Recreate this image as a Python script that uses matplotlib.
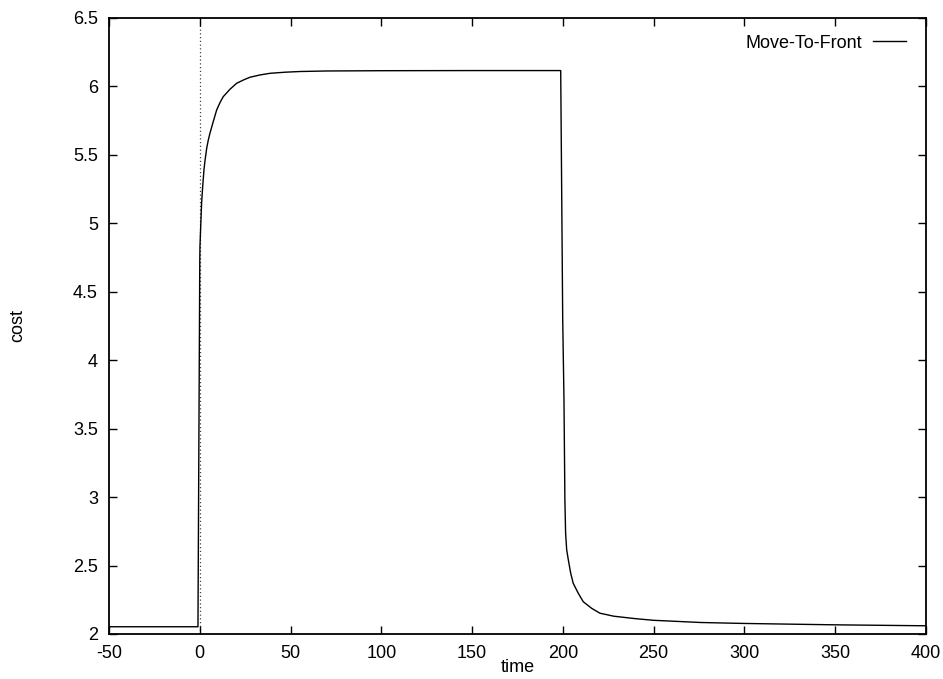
import matplotlib
matplotlib.use("Agg")
import matplotlib.pyplot as plt

plt.rcParams['font.family'] = ['Liberation Sans', 'DejaVu Sans']

# Data
time = [-50, -1, 0, 0.1, 0.5, 1.0, 1.6, 2.3, 2.9, 3.8, 4.7, 5.6, 7.4, 9.3,
        11.1, 12.9, 16.6, 20.3, 24, 27.6, 33.2, 38.7, 47, 55, 70, 100, 150,
        198.8, 199.9, 200.6, 201.1, 201.5, 202.1, 203.0, 204.3, 205.7, 208.5,
        211.2, 215.8, 220.4, 228, 240, 250, 276, 300, 350, 400]
cost = [2.053, 2.053, 4.73, 4.83, 4.975, 5.146, 5.268, 5.39, 5.46, 5.548,
        5.609, 5.658, 5.742, 5.828, 5.881, 5.925, 5.979, 6.023, 6.047, 6.067,
        6.084, 6.096, 6.104, 6.109, 6.113, 6.115, 6.116,
        6.116, 4.3, 3.71, 2.98, 2.736, 2.614, 2.541, 2.444, 2.37, 2.297,
        2.236, 2.188, 2.152, 2.13, 2.112, 2.10, 2.084, 2.077, 2.067, 2.06]
series_label = "Move-To-Front"
xticks = [-50, 0, 50, 100, 150, 200, 250, 300, 350, 400]
yticks = [2, 2.5, 3, 3.5, 4, 4.5, 5, 5.5, 6, 6.5]

fig = plt.figure(figsize=(9.43, 6.79), dpi=100)
ax = fig.add_axes([109/943, 1-634/679, 817/943, 616/679])

ax.axvline(0, color='#444444', lw=0.9, ls=(0, (1, 2)), zorder=1)
ax.plot(time, cost, color='black', lw=1.0, label=series_label, zorder=2)

ax.set_xlim(-50, 400)
ax.set_ylim(2, 6.5)
ax.set_xticks(xticks)
ax.set_yticks(yticks)
ax.set_xticklabels([str(t) for t in xticks])
ax.set_yticklabels([('%g' % t) for t in yticks])
ax.tick_params(direction='in', length=6, width=1, top=True, right=True,
               labelsize=13, pad=8, colors='black')
for s in ax.spines.values():
    s.set_linewidth(1.3)

ax.set_xlabel('time', fontsize=13)
ax.set_ylabel('cost', fontsize=13)
ax.xaxis.set_label_coords(0.5, (634-668)/616)
ax.xaxis.label.set_va('center')
ax.yaxis.set_label_coords((18-109)/817, 0.5)
ax.yaxis.label.set_va('center')

leg = ax.legend(loc='center right', bbox_to_anchor=((906-109)/817, (634-43)/616),
                frameon=False, markerfirst=False, fontsize=13,
                handlelength=1.85, handletextpad=0.6, borderpad=0, borderaxespad=0)

fig.savefig('out.png', dpi=100)
